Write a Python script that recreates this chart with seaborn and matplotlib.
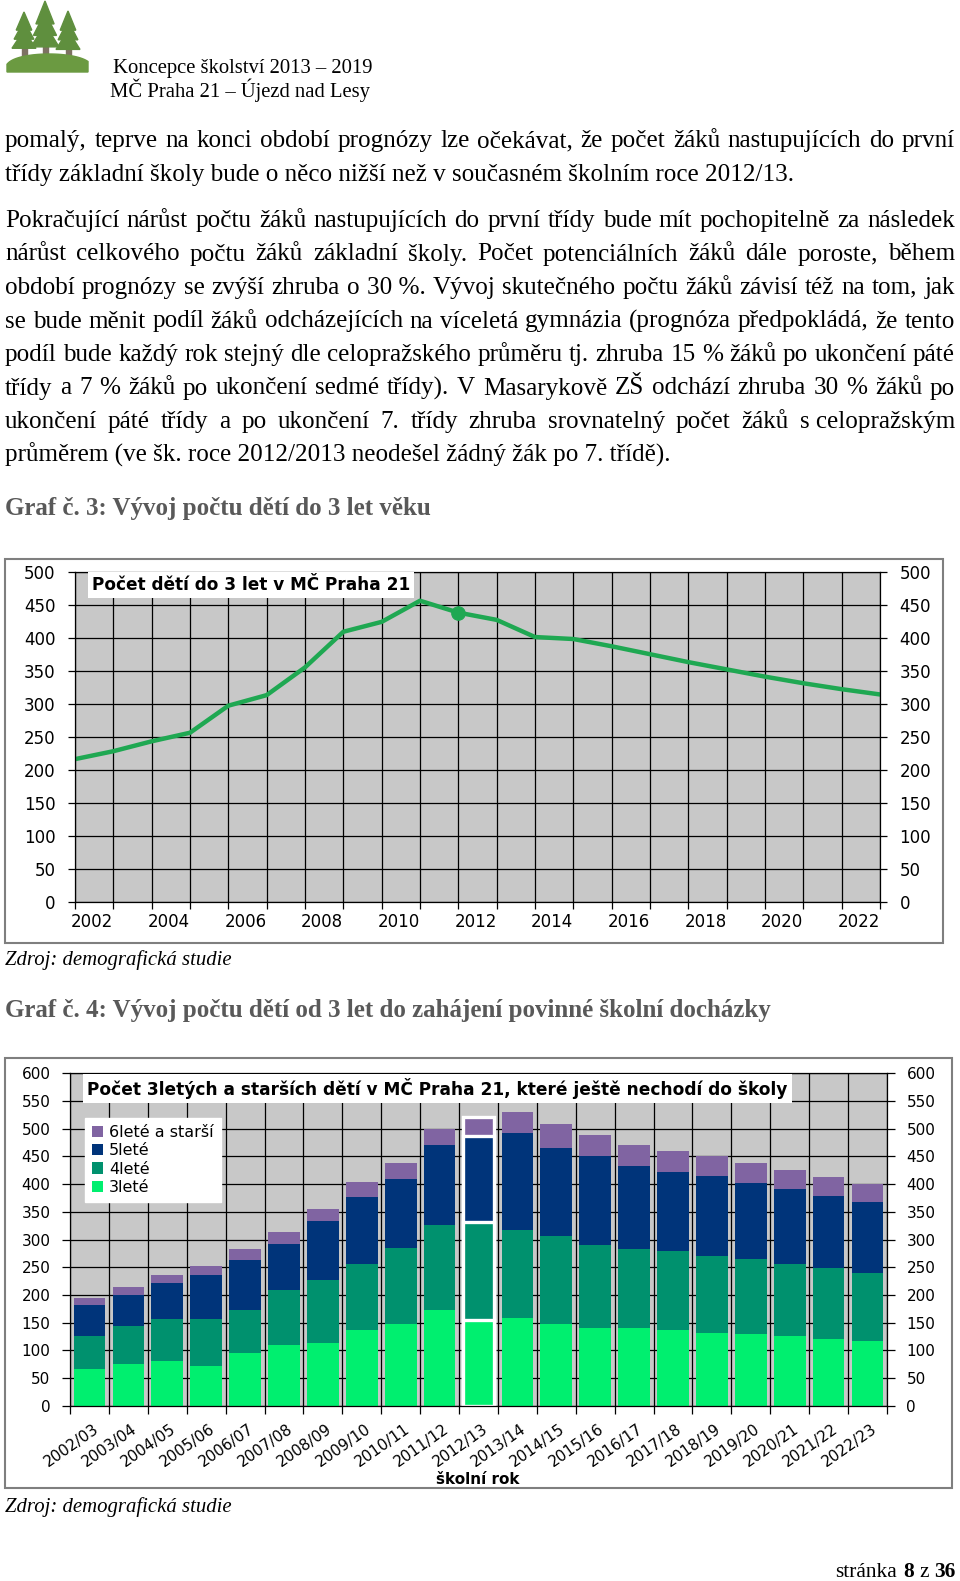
import numpy as np
import matplotlib
matplotlib.use("Agg")
import matplotlib.pyplot as plt
import seaborn as sns
from matplotlib.patches import Rectangle, Polygon, Patch
from matplotlib.ticker import MultipleLocator, FixedLocator, NullFormatter

W, H = 960, 1581
SERIF = "Liberation Serif"
SANS = "DejaVu Sans"

# Graf č. 3 - počet dětí do 3 let
years = list(range(2002, 2024))
deti_do_3 = [216, 228, 243, 256, 297, 313, 355, 409, 424, 456, 438,
             427, 401, 398, 387, 375, 363, 352, 341, 331, 322, 314]
highlight_year = 2012

# Graf č. 4 - 3leté a starší děti
skolni_rok = ["2002/03", "2003/04", "2004/05", "2005/06", "2006/07", "2007/08",
              "2008/09", "2009/10", "2010/11", "2011/12", "2012/13", "2013/14",
              "2014/15", "2015/16", "2016/17", "2017/18", "2018/19", "2019/20",
              "2020/21", "2021/22", "2022/23"]
tri = [67, 76, 81, 72, 95, 110, 113, 137, 147, 172, 155, 158, 147, 141, 141, 137, 132, 129, 125, 121, 117]
ctyri = [58, 67, 75, 85, 78, 99, 114, 118, 138, 155, 176, 159, 160, 149, 142, 142, 139, 135, 131, 127, 123]
pet = [56, 56, 66, 79, 90, 82, 106, 121, 124, 143, 156, 176, 159, 160, 149, 143, 143, 138, 135, 131, 128]
sest = [14, 15, 14, 17, 20, 23, 22, 27, 29, 30, 35, 38, 42, 38, 38, 37, 36, 36, 34, 33, 32]
highlight_rok = "2012/13"
legend_labels = ["6leté a starší", "5leté", "4leté", "3leté"]

# page text
header = ["Koncepce školství 2013 – 2019", "MČ Praha 21 – Újezd nad Lesy"]
odstavec_1 = [
    "pomalý, teprve na konci období prognózy lze očekávat, že počet žáků nastupujících do první",
    "třídy základní školy bude o něco nižší než v současném školním roce 2012/13.",
]
odstavec_2 = [
    "Pokračující nárůst počtu žáků nastupujících do první třídy bude mít pochopitelně za následek",
    "nárůst celkového počtu žáků základní školy. Počet potenciálních žáků dále poroste, během",
    "období prognózy se zvýší zhruba o 30\u00a0%. Vývoj skutečného počtu žáků závisí též na tom, jak",
    "se bude měnit podíl žáků odcházejících na víceletá gymnázia (prognóza předpokládá, že tento",
    "podíl bude každý rok stejný dle celopražského průměru tj. zhruba 15 % žáků po ukončení páté",
    "třídy a 7 % žáků po ukončení sedmé třídy). V Masarykově ZŠ odchází zhruba 30 % žáků po",
    "ukončení páté třídy a po ukončení 7. třídy zhruba srovnatelný počet žáků s\u00a0celopražským",
    "průměrem (ve šk. roce 2012/2013 neodešel žádný žák po 7. třídě).",
]
graf3 = "Graf č. 3: Vývoj počtu dětí do 3 let věku"
graf4 = "Graf č. 4: Vývoj počtu dětí od 3 let do zahájení povinné školní docházky"
zdroj = "Zdroj: demografická studie"
titulek3 = "Počet dětí do 3 let v MČ Praha 21"
titulek4 = "Počet 3letých a starších dětí v MČ Praha 21, které ještě nechodí do školy"

GREEN = "#1fa852"
COLORS = ["#8064a2", "#00347a", "#00916e", "#00ef6f"]
GRAY = "#c8c8c8"

plt.rcParams["font.family"] = SANS
fig = plt.figure(figsize=(W / 100, H / 100), dpi=100)
renderer = fig.canvas.get_renderer()


def fx(x):
    return x / W


def fy(y):
    return 1 - y / H


def rect(x0, y0, x1, y1):
    return [fx(x0), fy(y1), (x1 - x0) / W, (y1 - y0) / H]


def text_w(s, **kw):
    t = fig.text(0, 0, s, **kw)
    w = t.get_window_extent(renderer).width
    t.remove()
    return w


def fit(s, target, **kw):
    return 10 * target / text_w(s, size=10, **kw)


def justify(line, y, size, x0=5, x1=955):
    words = line.split(" ")
    ws = [text_w(w, family=SERIF, size=size) for w in words]
    gap = (x1 - x0 - sum(ws)) / (len(words) - 1)
    x = x0
    for w, wd in zip(words, ws):
        fig.text(fx(x), fy(y), w, family=SERIF, size=size, va="baseline")
        x += wd + gap


def paragraph(lines, baselines, size):
    for line, y in zip(lines[:-1], baselines[:-1]):
        justify(line, y, size)
    fig.text(fx(5), fy(baselines[-1]), lines[-1], family=SERIF, size=size, va="baseline")


# ---- logo ----
axl = fig.add_axes(rect(5, 0, 90, 75))
axl.set_xlim(0, 85)
axl.set_ylim(75, 0)
axl.axis("off")
tree_green = "#5f8f3e"
for cx, top, half, bottom in [(19, 12, 12, 46), (40, 1, 14, 44), (63, 11, 12, 47)]:
    axl.add_patch(Rectangle((cx - 2.5, bottom - 6), 5, 18, color="#7d7262"))
    step = (bottom - top) / 3
    for k in range(3):
        t = top + k * step * 0.8
        b = t + step * 1.6
        hw = half * (0.65 + 0.175 * k)
        axl.add_patch(Polygon([(cx, t), (cx - hw, b), (cx + hw, b)], color=tree_green))
xs = np.linspace(2, 83, 60)
hill = list(zip(xs, 72 - 18 * np.clip(1 - ((xs - 44) / 44) ** 2, 0, 1) ** 0.35))
hill += [(83, 72), (2, 72)]
axl.add_patch(Polygon(hill, color="#6b9a41"))

# ---- header ----
hsize = fit(header[0], 260, family=SERIF)
fig.text(fx(113), fy(73), header[0], family=SERIF, size=hsize, va="baseline")
fig.text(fx(110), fy(97), header[1], family=SERIF, size=hsize, va="baseline")

# ---- body text ----
body = fit(odstavec_1[1], 790, family=SERIF)
paragraph(odstavec_1, [147, 181], body)
paragraph(odstavec_2, [227, 260.5, 294, 327.5, 361, 394.5, 428, 461.5], body)

head = fit(graf3, 428, family=SERIF, weight="bold")
fig.text(fx(5), fy(515), graf3, family=SERIF, weight="bold", size=head, color="#595959", va="baseline")
fig.text(fx(5), fy(1017), graf4, family=SERIF, weight="bold", size=head, color="#595959", va="baseline")
zs = fit(zdroj, 227, family=SERIF, style="italic")
fig.text(fx(5), fy(965), zdroj, family=SERIF, style="italic", size=zs, va="baseline")
fig.text(fx(5), fy(1512), zdroj, family=SERIF, style="italic", size=zs, va="baseline")

# page number
parts = [("36", "bold"), ("z", "normal"), ("8", "bold"), ("stránka", "normal")]
ps = body * 0.85
sp = text_w("a a", family=SERIF, size=ps) - text_w("aa", family=SERIF, size=ps)
x = 955
for s, wt in parts:
    fig.text(fx(x), fy(1577), s, family=SERIF, weight=wt, size=ps, ha="right", va="baseline")
    x -= text_w(s, family=SERIF, weight=wt, size=ps) + sp

# ---- Graf 3 ----
fig.add_artist(Rectangle((fx(5), fy(943)), (943 - 5) / W, (943 - 559) / H,
                         transform=fig.transFigure, fill=False, ec="#7f7f7f", lw=1.5))
ax1 = fig.add_axes(rect(75, 571.7, 880, 901.7))
ax1.set_facecolor(GRAY)
sns.lineplot(x=years, y=deti_do_3, color=GREEN, linewidth=3.2, ax=ax1)
i = years.index(highlight_year)
sns.scatterplot(x=[highlight_year], y=[deti_do_3[i]], color=GREEN, s=95, edgecolor=GREEN, ax=ax1, zorder=3)
ax1.set_xlim(years[0], years[-1])
ax1.set_ylim(0, 500)
ax1.xaxis.set_major_locator(FixedLocator(years))
ax1.xaxis.set_major_formatter(NullFormatter())
even = years[:-1:2]
ax1.set_xticks([y + 0.45 for y in even], labels=[str(y) for y in even], minor=True)
ax1.tick_params(axis="x", which="major", length=5, width=0.9)
ax1.tick_params(axis="x", which="minor", length=0, pad=8, labelsize=12)
ax1.yaxis.set_major_locator(MultipleLocator(50))
ax1.tick_params(axis="y", left=True, right=True, labelleft=True, labelright=True,
                length=5, width=0.9, pad=9, labelsize=12)
ax1.grid(True, which="major", color="black", linewidth=0.9)
for s in ax1.spines.values():
    s.set_color("black")
    s.set_linewidth(0.9)
ax1.set_xlabel("")
ax1.set_ylabel("")
t1 = fit(titulek3, 318, weight="bold")
fig.text(fx(92), fy(585), titulek3, weight="bold", size=t1, va="center",
         bbox=dict(facecolor="white", edgecolor="none", boxstyle="square,pad=0.25"))

# ---- Graf 4 ----
fig.add_artist(Rectangle((fx(5), fy(1488)), (952 - 5) / W, (1488 - 1058) / H,
                         transform=fig.transFigure, fill=False, ec="#7f7f7f", lw=1.5))
ax2 = fig.add_axes(rect(70, 1073.3, 887, 1405.7))
ax2.set_facecolor(GRAY)
c3 = np.array(tri)
c4 = c3 + np.array(ctyri)
c5 = c4 + np.array(pet)
c6 = c5 + np.array(sest)
hl = skolni_rok.index(highlight_rok)
for vals, col in zip([c6, c5, c4, c3], COLORS):
    sns.barplot(x=skolni_rok, y=vals, color=col, width=0.815, saturation=1,
                errorbar=None, ax=ax2)
    bar = ax2.patches[-len(skolni_rok) + hl]
    bar.set_edgecolor("white")
    bar.set_linewidth(2.4)
ax2.set_xlim(-0.5, len(skolni_rok) - 0.5)
ax2.set_ylim(0, 600)
ax2.xaxis.set_major_locator(FixedLocator(np.arange(-0.5, len(skolni_rok), 1)))
ax2.xaxis.set_major_formatter(NullFormatter())
ax2.set_xticks(np.arange(len(skolni_rok)) + 0.08, labels=skolni_rok, minor=True,
               rotation=35, ha="right", va="top", rotation_mode="anchor")
ax2.tick_params(axis="x", which="major", length=6, width=0.9)
ax2.tick_params(axis="x", which="minor", length=0, pad=11, labelsize=11)
ax2.yaxis.set_major_locator(MultipleLocator(50))
ax2.tick_params(axis="y", left=True, right=True, labelleft=True, labelright=True,
                length=6, width=0.9, pad=8, labelsize=11)
ax2.set_axisbelow(True)
ax2.grid(True, which="major", color="black", linewidth=0.9)
for s in ax2.spines.values():
    s.set_color("black")
    s.set_linewidth(0.9)
ax2.set_xlabel("")
ax2.set_ylabel("")
handles = [Patch(facecolor=c, label=l) for c, l in zip(COLORS, legend_labels)]
ax2.legend(handles=handles, loc="upper left", bbox_to_anchor=(fx(85), fy(1118)),
           bbox_transform=fig.transFigure, frameon=True, fancybox=False, framealpha=1,
           edgecolor="white", facecolor="white", fontsize=11.5, handlelength=0.7,
           handleheight=0.7, handletextpad=0.35, labelspacing=0.2, borderpad=0.45,
           borderaxespad=0)
t2 = fit(titulek4, 703, weight="bold")
fig.text(fx(87), fy(1088.5), titulek4, weight="bold", size=t2, va="center",
         bbox=dict(facecolor="white", edgecolor="none", boxstyle="square,pad=0.25"))
fig.text(fx(478), fy(1479), "školní rok", weight="bold", size=11, ha="center", va="center")

fig.savefig("out.png", dpi=100)
